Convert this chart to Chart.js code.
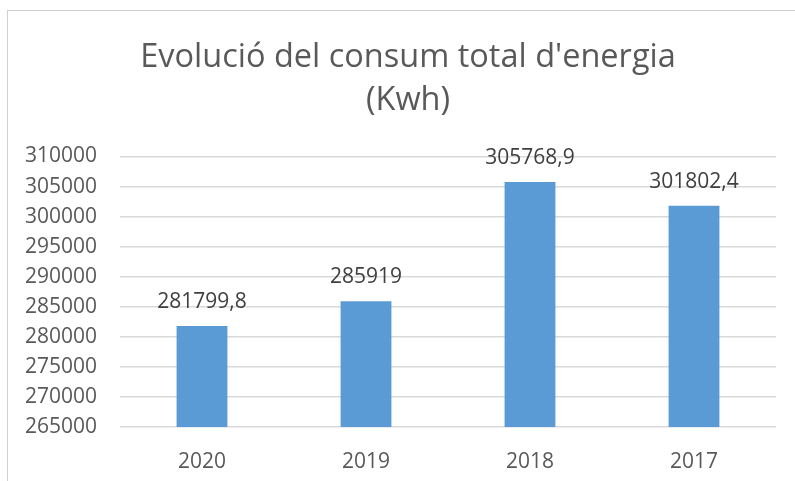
<!DOCTYPE html>
<html>
<head>
<meta charset="utf-8">
<script src="https://cdn.jsdelivr.net/npm/chart.js@4"></script>
<style>
  html, body { margin: 0; padding: 0; background: #fff; overflow: hidden; }
  #frame {
    position: absolute; left: 7px; top: 10px;
    width: 800px; height: 490px;
    border-left: 1px solid #d0d0d0; border-top: 1px solid #d0d0d0;
  }
  #chart { position: absolute; left: 0; top: 0; }
</style>
</head>
<body>
<div id="frame"><canvas id="chart" width="800" height="480"></canvas></div>
<script>
// chart data
const years = ['2020', '2019', '2018', '2017'];
const consum = [281799.8, 285919, 305768.9, 301802.4];
const yMin = 265000;
const yMax = 310000;
const yStep = 5000;

const fontFamily = "'Open Sans', 'Noto Sans', sans-serif";

// labels above every bar, decimal comma like the original
const valueLabels = {
  id: 'valueLabels',
  afterDatasetsDraw(chart) {
    const ctx = chart.ctx;
    const meta = chart.getDatasetMeta(0);
    ctx.save();
    ctx.font = '21px ' + fontFamily;
    ctx.fillStyle = '#404040';
    ctx.textAlign = 'center';
    ctx.textBaseline = 'alphabetic';
    meta.data.forEach((bar, i) => {
      const txt = String(chart.data.datasets[0].data[i]).replace('.', ',');
      ctx.fillText(txt, bar.x, bar.y - 18);
    });
    ctx.restore();
  }
};

const ctx = document.getElementById('chart').getContext('2d');
const consumChart = new Chart(ctx, {
  type: 'bar',
  data: {
    labels: years,
    datasets: [{
      data: consum,
      backgroundColor: '#5B9BD5',
      borderWidth: 0,
      barPercentage: 0.31,
      categoryPercentage: 1
    }]
  },
  options: {
    responsive: false,
    animation: false,
    scales: {
      y: {
        min: yMin,
        max: yMax,
        afterFit(scale) { scale.width = 112; },
        ticks: {
          stepSize: yStep,
          padding: 23,
          color: '#595959',
          font: { family: fontFamily, size: 21 },
          callback: (v) => String(v)
        },
        grid: {
          color: '#d9d9d9',
          lineWidth: 1.5,
          drawTicks: false
        },
        border: { display: false }
      },
      // empty right axis, only keeps a margin on the right of the plot
      spacer: {
        position: 'right',
        min: yMin,
        max: yMax,
        afterFit(scale) { scale.width = 32; },
        ticks: { display: false },
        grid: { display: false, drawTicks: false },
        border: { display: false }
      },
      x: {
        afterFit(scale) { scale.height = 64; },
        ticks: {
          padding: 22,
          color: '#595959',
          font: { family: fontFamily, size: 21 }
        },
        grid: { display: false, drawTicks: false },
        border: { display: false }
      }
    },
    plugins: {
      legend: { display: false },
      tooltip: { enabled: false },
      title: {
        display: true,
        text: ["Evolució del consum total d'energia", '(Kwh)'],
        color: '#595959',
        font: { family: fontFamily, size: 32.5, weight: 'normal', lineHeight: 1.3 },
        padding: { top: 26, bottom: 35 }
      }
    }
  },
  plugins: [valueLabels]
});
</script>
</body>
</html>
